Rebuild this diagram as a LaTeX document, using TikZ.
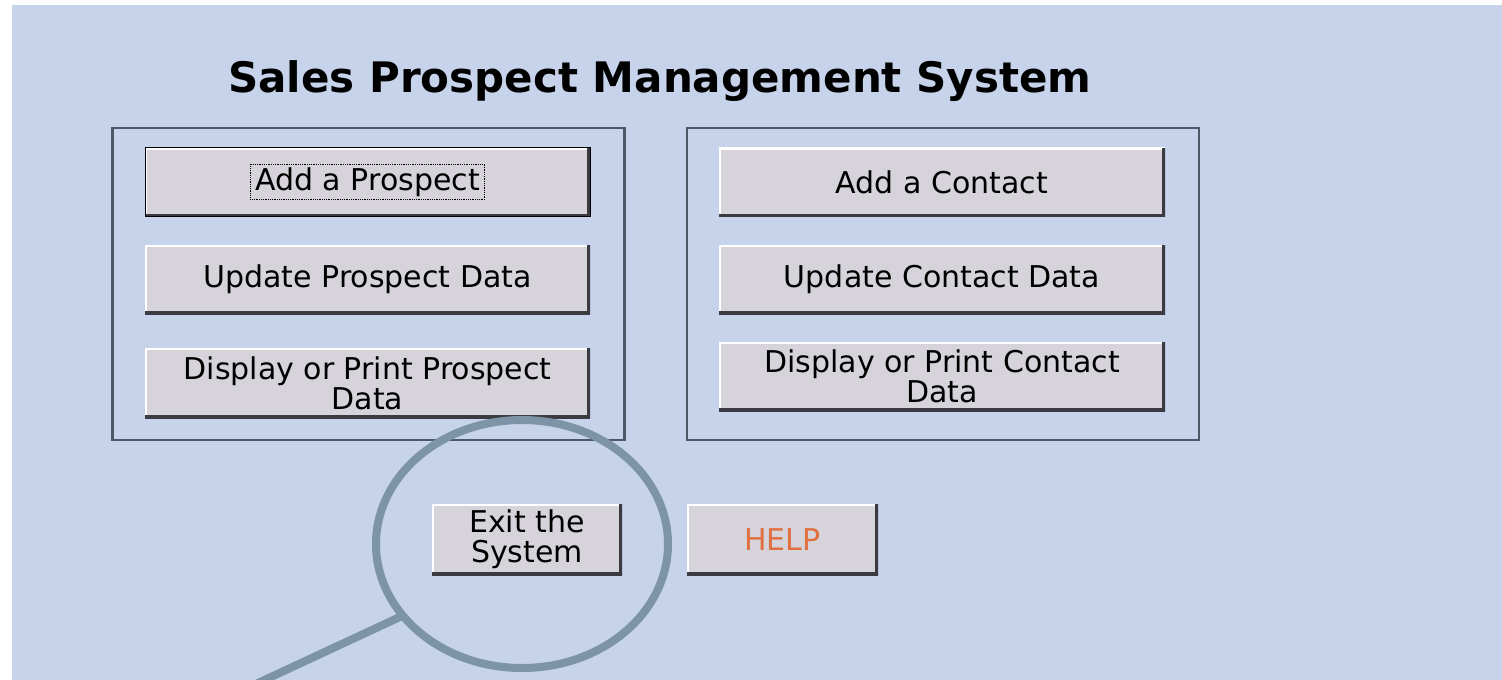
\documentclass[tikz,border=0pt]{standalone}
\usepackage{fontspec}
\setmainfont{DejaVu Sans}
\usetikzlibrary{shapes.geometric}
\definecolor{bgc}{HTML}{C6D3EA}
\definecolor{btnc}{HTML}{D6D4DA}
\definecolor{shadowc}{HTML}{3A3A40}
\definecolor{framec}{HTML}{4A5868}
\definecolor{lensc}{HTML}{7C94A5}
\definecolor{helpc}{HTML}{E07040}
\begin{document}
\begin{tikzpicture}[x=1pt,y=-1pt,
  every node/.style={inner sep=0pt, outer sep=0pt},
  btn/.style={rectangle, fill=btnc, align=center, text=black,
    font=\fontsize{30}{30}\selectfont,
    path picture={
      \draw[white, line width=4pt] (path picture bounding box.south west) -- (path picture bounding box.north west) -- (path picture bounding box.north east);
      \draw[shadowc, line width=6pt] (path picture bounding box.south west) -- (path picture bounding box.south east) -- (path picture bounding box.north east);
    }},
  lbtn/.style={btn, minimum width=445pt, minimum height=69pt},
  rbtn/.style={btn, minimum width=446pt, minimum height=69pt},
  sbtn/.style={btn, minimum width=190pt, minimum height=71pt},
  grp/.style={rectangle, draw=framec, line width=2.4pt, minimum width=512pt, minimum height=312pt},
  lens/.style={ellipse, draw=lensc, line width=8pt, minimum width=292pt, minimum height=248pt},
]
\useasboundingbox (0,0) rectangle (1502,680);
\fill[white] (0,0) rectangle (1502,680);
\fill[bgc] (12,5) rectangle (1502,680);

\node[font=\bfseries\fontsize{42}{44}\selectfont, anchor=base] (title) at (660,92) {Sales Prospect Management System};

\node[grp] (lgrp) at (368.5,284) {};
\node[grp] (rgrp) at (943,284) {};

\node[lbtn, draw=black, line width=1pt] (addp) at (367.5,182) {};
\node[draw=black, densely dotted, line width=0.8pt, inner xsep=5pt, inner ysep=3pt, font=\fontsize{30}{30}\selectfont] (addptxt) at (addp) {Add a Prospect};
\node[lbtn] (updp) at (367.5,279.5) {Update Prospect Data};
\node[lbtn, minimum height=70pt] (disp) at (367.5,383) {Display or Print Prospect\\Data};

\node[rbtn] (addc) at (942,182) {Add a Contact};
\node[rbtn] (updc) at (942,279.5) {Update Contact Data};
\node[rbtn] (disc) at (942,376.5) {Display or Print Contact\\Data};

\node[sbtn] (exit) at (527,539.5) {Exit the\\System};
\node[sbtn, minimum width=191pt, text=helpc] (help) at (782.5,539.5) {HELP};

\node[lens] (lens) at (522,544) {};
\coordinate (tail) at (243,690);
\draw[lensc, line width=8pt] (lens.211) -- (tail);
\end{tikzpicture}
\end{document}
